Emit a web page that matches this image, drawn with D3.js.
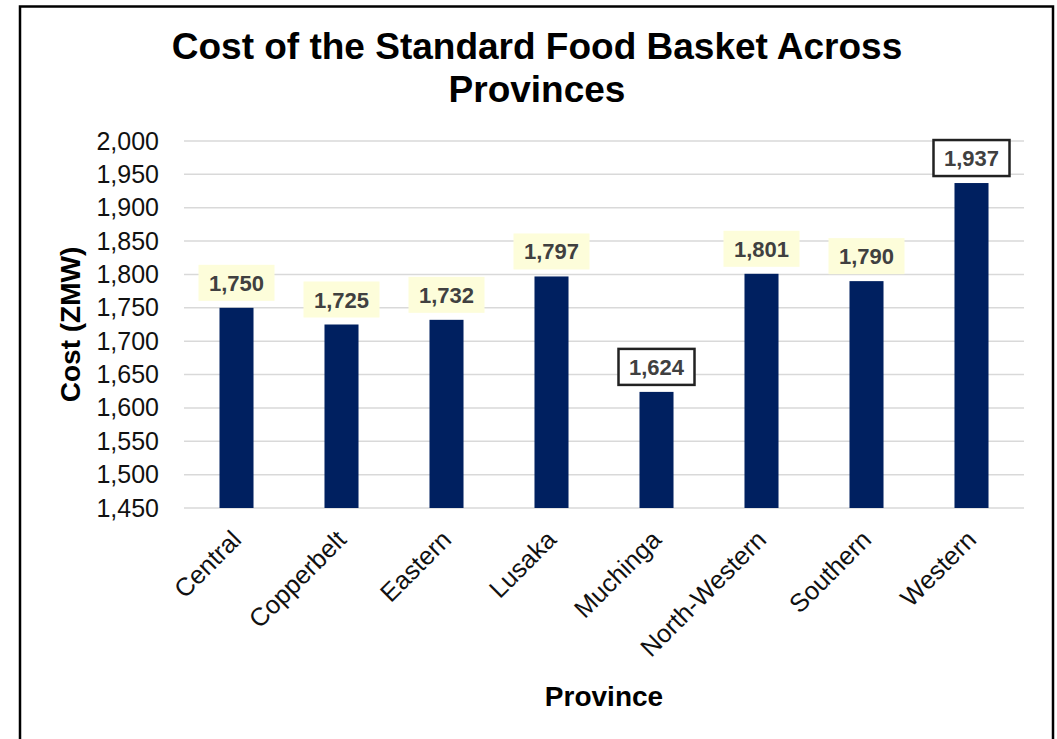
<!DOCTYPE html>
<html>
<head>
<meta charset="utf-8">
<script src="https://cdn.jsdelivr.net/npm/d3@7"></script>
<style>
  body { margin: 0; background: #fff; }
  text { font-family: "Liberation Sans", Arial, sans-serif; }
</style>
</head>
<body>
<div id="chart"></div>
<script>
// data
var provinces = ["Central", "Copperbelt", "Eastern", "Lusaka", "Muchinga", "North-Western", "Southern", "Western"];
var costs = [1750, 1725, 1732, 1797, 1624, 1801, 1790, 1937];
var boxedLabels = ["Muchinga", "Western"]; // lowest and highest get a framed label
var yTicks = [1450, 1500, 1550, 1600, 1650, 1700, 1750, 1800, 1850, 1900, 1950, 2000];
var titleLines = ["Cost of the Standard Food Basket Across", "Provinces"];

var W = 1057, H = 739;
var margin = {top: 141, right: 33, bottom: 231, left: 184};

var svg = d3.select("#chart").append("svg")
    .attr("width", W)
    .attr("height", H);

// outer frame
svg.append("rect")
    .attr("x", 20).attr("y", 6.5)
    .attr("width", 1033).attr("height", 800)
    .attr("fill", "none")
    .attr("stroke", "#000")
    .attr("stroke-width", 2.5);

var x = d3.scaleBand()
    .domain(provinces)
    .range([margin.left, W - margin.right])
    .paddingInner(0.676)
    .paddingOuter(0.338);

var y = d3.scaleLinear()
    .domain([1450, 2000])
    .range([H - margin.bottom, margin.top]);

// title
svg.append("text")
    .attr("text-anchor", "middle")
    .style("font-size", "37px")
    .style("font-weight", "bold")
    .selectAll("tspan").data(titleLines).enter()
    .append("tspan")
    .attr("x", 537)
    .attr("y", function(d, i) { return 59 + i * 43; })
    .text(function(d) { return d; });

// gridlines
svg.append("g").selectAll("line").data(yTicks).enter()
    .append("line")
    .attr("x1", margin.left).attr("x2", W - margin.right)
    .attr("y1", function(d) { return y(d); })
    .attr("y2", function(d) { return y(d); })
    .attr("stroke", "#d9d9d9")
    .attr("stroke-width", 1.5);

// y axis labels
var yAxis = d3.axisLeft(y)
    .tickValues(yTicks)
    .tickFormat(d3.format(","))
    .tickSize(0)
    .tickPadding(25);
var gy = svg.append("g")
    .attr("transform", "translate(" + margin.left + ",0)")
    .call(yAxis);
gy.select(".domain").remove();
gy.selectAll("text")
    .style("font-size", "25px")
    .style("font-family", "Liberation Sans, Arial, sans-serif")
    .attr("fill", "#111");

// x axis labels
var xAxis = d3.axisBottom(x).tickSize(0).tickPadding(0);
var gx = svg.append("g")
    .attr("transform", "translate(0," + (H - margin.bottom) + ")")
    .call(xAxis);
gx.select(".domain").remove();
gx.selectAll("text")
    .style("font-size", "25.5px")
    .style("font-family", "Liberation Sans, Arial, sans-serif")
    .attr("fill", "#111")
    .style("text-anchor", "end")
    .attr("dy", "0.35em")
    .attr("transform", "translate(0, 27) rotate(-45)");

// bars
svg.append("g").selectAll("rect").data(costs).enter()
    .append("rect")
    .attr("x", function(d, i) { return x(provinces[i]); })
    .attr("y", function(d) { return y(d); })
    .attr("width", x.bandwidth())
    .attr("height", function(d) { return y(1450) - y(d); })
    .attr("fill", "#002060");

// data labels
var fmt = d3.format(",");
var lab = svg.append("g").selectAll("g").data(costs).enter()
    .append("g")
    .attr("transform", function(d, i) {
        return "translate(" + (x(provinces[i]) + x.bandwidth() / 2) + "," + (y(d) - 7) + ")";
    });

lab.append("rect")
    .attr("x", -38).attr("y", -36)
    .attr("width", 76).attr("height", 36)
    .attr("fill", function(d, i) { return boxedLabels.includes(provinces[i]) ? "#fff" : "#fdfdda"; })
    .attr("stroke", function(d, i) { return boxedLabels.includes(provinces[i]) ? "#222" : "none"; })
    .attr("stroke-width", 2.5);

lab.append("text")
    .attr("text-anchor", "middle")
    .attr("y", -10)
    .style("font-size", "22px")
    .style("font-weight", "bold")
    .attr("fill", "#404040")
    .text(function(d) { return fmt(d); });

// axis titles
svg.append("text")
    .attr("text-anchor", "middle")
    .attr("transform", "translate(80," + ((y(2000) + y(1450)) / 2) + ") rotate(-90)")
    .style("font-size", "28px")
    .style("font-weight", "bold")
    .text("Cost (ZMW)");

svg.append("text")
    .attr("text-anchor", "middle")
    .attr("x", (margin.left + W - margin.right) / 2)
    .attr("y", 706)
    .style("font-size", "28px")
    .style("font-weight", "bold")
    .text("Province");
</script>
</body>
</html>
